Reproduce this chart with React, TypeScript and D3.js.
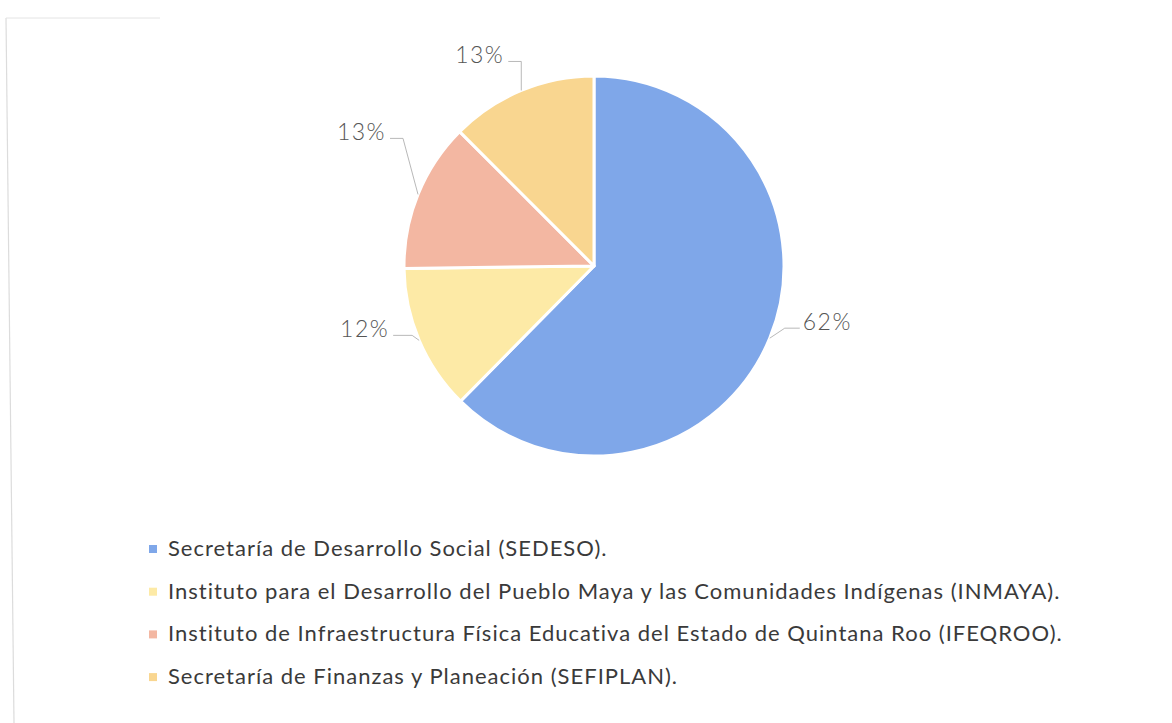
import React, { useRef, useEffect } from 'react';
import * as d3 from 'd3';

const categories = [
    'Secretaría de Desarrollo Social (SEDESO).',
    'Instituto para el Desarrollo del Pueblo Maya y las Comunidades Indígenas (INMAYA).',
    'Instituto de Infraestructura Física Educativa del Estado de Quintana Roo (IFEQROO).',
    'Secretaría de Finanzas y Planeación (SEFIPLAN).',
];
// shares; labels as printed
const values = [62.4, 12.4, 12.7, 12.5];
const percentLabels = ['62%', '12%', '13%', '13%'];
const colors = ['#7fa7e9', '#fdeaa6', '#f3b7a2', '#f9d690'];

// leader line layout: elbow offset from slice edge, then horizontal run
const leaderOffsets: [number, number, number][] = [
    [15, -10, 15],
    [-7, -5, -19],
    [-15, -56, -13],
    [0, -29, -13],
];

const W = 1172;
const H = 723;
const FONT = 'Lato, "Open Sans", sans-serif';

const App: React.FC = () => {
    const svgRef = useRef<SVGSVGElement | null>(null);

    useEffect(() => {
        const svg = d3.select(svgRef.current);
        svg.selectAll('*').remove();

        // faint scanned frame
        svg.append('line').attr('x1', 6).attr('y1', 18).attr('x2', 14).attr('y2', H)
            .attr('stroke', '#dcdcdc').attr('stroke-width', 1.2);
        svg.append('line').attr('x1', 6).attr('y1', 18).attr('x2', 160).attr('y2', 18)
            .attr('stroke', '#e4e4e4').attr('stroke-width', 1);

        const cx = 594;
        const cy = 266;
        const radius = 190;

        const data = categories.map((c, i) => ({ name: c, value: values[i], label: percentLabels[i], color: colors[i] }));
        type D = typeof data[number];

        const pie = d3.pie<D>().value(d => d.value).sort(null);
        const arc = d3.arc<d3.PieArcDatum<D>>().innerRadius(0).outerRadius(radius);
        const edge = d3.arc<d3.PieArcDatum<D>>().innerRadius(radius).outerRadius(radius);

        const g = svg.append('g').attr('transform', `translate(${cx},${cy})`);
        const arcs = pie(data);

        g.selectAll('path.slice')
            .data(arcs)
            .enter()
            .append('path')
            .attr('class', 'slice')
            .attr('d', arc)
            .attr('fill', d => d.data.color)
            .attr('stroke', '#ffffff')
            .attr('stroke-width', 3)
            .attr('stroke-linejoin', 'round');

        arcs.forEach((a, i) => {
            const [x0, y0] = edge.centroid(a);
            const [dx, dy, run] = leaderOffsets[i];
            const x1 = x0 + dx;
            const y1 = y0 + dy;
            const x2 = x1 + run;
            g.append('polyline')
                .attr('points', `${x0},${y0} ${x1},${y1} ${x2},${y1}`)
                .attr('fill', 'none')
                .attr('stroke', '#b0b0b0')
                .attr('stroke-width', 0.9);
            g.append('text')
                .attr('x', run > 0 ? x2 + 3 : x2 - 4)
                .attr('y', y1 + 2)
                .attr('text-anchor', run > 0 ? 'start' : 'end')
                .attr('font-family', FONT)
                .attr('font-weight', 300)
                .attr('font-size', 23)
                .attr('letter-spacing', 1.5)
                .attr('fill', '#555555')
                .text(a.data.label);
        });

        const legend = svg.append('g');
        const step = 42.7;
        data.forEach((d, i) => {
            const y = 556 + i * step;
            legend.append('rect')
                .attr('x', 149)
                .attr('y', y - 11)
                .attr('width', 8)
                .attr('height', 8)
                .attr('fill', d.color);
            legend.append('text')
                .attr('x', 168)
                .attr('y', y)
                .attr('font-family', FONT)
                .attr('font-size', 22)
                .attr('letter-spacing', 1)
                .attr('fill', '#3a3a3a')
                .text(d.name);
        });
    }, []);

    return (
        <svg
            ref={svgRef}
            width={W}
            height={H}
            style={{ position: 'absolute', left: 0, top: 0, background: '#ffffff' }}
        />
    );
};

export default App;
